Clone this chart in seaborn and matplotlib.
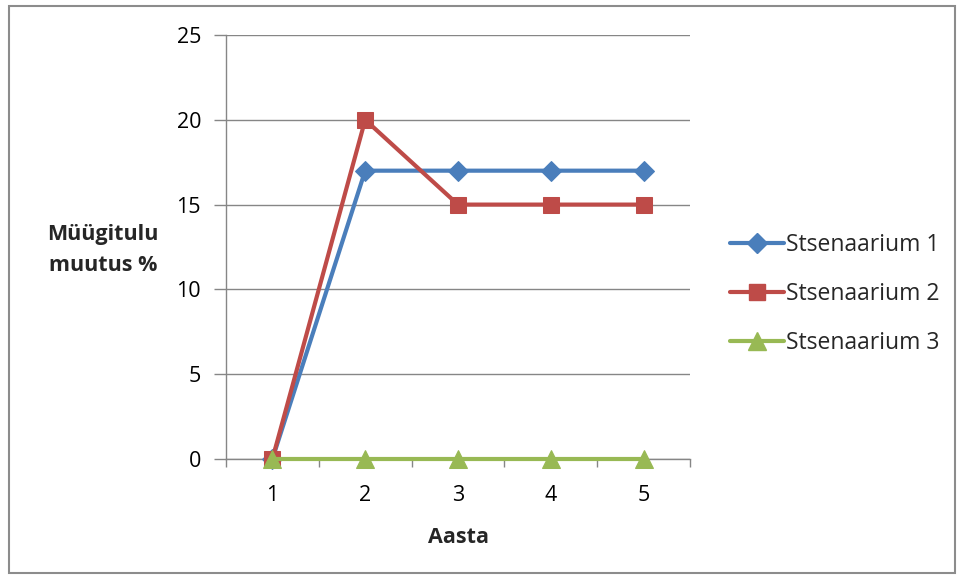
import matplotlib
matplotlib.use("Agg")
import matplotlib.pyplot as plt
import seaborn as sns
import pandas as pd
from matplotlib.lines import Line2D
from matplotlib.patches import Rectangle

years = [1, 2, 3, 4, 5]
series_names = ["Stsenaarium 1", "Stsenaarium 2", "Stsenaarium 3"]
scenario1 = [0, 17, 17, 17, 17]
scenario2 = [0, 20, 15, 15, 15]
scenario3 = [0, 0, 0, 0, 0]
y_ticks = [0, 5, 10, 15, 20, 25]

colors = {"Stsenaarium 1": "#4A7EBB", "Stsenaarium 2": "#BE4B48", "Stsenaarium 3": "#98B954"}
markers = {"Stsenaarium 1": "D", "Stsenaarium 2": "s", "Stsenaarium 3": "^"}
msizes = {"Stsenaarium 1": 10, "Stsenaarium 2": 11, "Stsenaarium 3": 12.5}
LW = 3.0
FS = 15.5

df = pd.DataFrame({
    "Aasta": years * 3,
    "value": scenario1 + scenario2 + scenario3,
    "series": [n for n in series_names for _ in years],
})

sns.set_theme(style="white")
plt.rcParams["font.family"] = ["Open Sans", "DejaVu Sans"]

fig = plt.figure(figsize=(9.64, 5.79), dpi=100)
ax = fig.add_axes([226 / 964, 1 - 459 / 579, 464 / 964, 424 / 579])

for name in series_names:
    sub = df[df["series"] == name]
    sns.lineplot(data=sub, x="Aasta", y="value", ax=ax, color=colors[name],
                 marker=markers[name], markersize=msizes[name],
                 markeredgecolor=colors[name], linewidth=LW, label=name,
                 legend=False, zorder=3, clip_on=False)

ax.set_xlim(0.5, 5.5)
ax.set_ylim(0, 25)
ax.set_yticks(y_ticks)
ax.set_xticks(years)
ax.set_xticks([0.5, 1.5, 2.5, 3.5, 4.5, 5.5], minor=True)
ax.grid(axis="y", color="#868686", linewidth=1.0, zorder=0)
ax.set_axisbelow(True)

for side in ["top", "right"]:
    ax.spines[side].set_visible(False)
for side in ["left", "bottom"]:
    ax.spines[side].set_color("#868686")
    ax.spines[side].set_linewidth(1.0)

ax.tick_params(axis="y", which="major", left=True, length=9, width=1.0,
               color="#868686", pad=9, labelsize=FS, labelcolor="black")
ax.tick_params(axis="x", which="major", bottom=False, length=0, pad=19,
               labelsize=FS, labelcolor="black")
ax.tick_params(axis="x", which="minor", bottom=True, length=6, width=1.0,
               color="#868686")

ax.set_xlabel("Aasta", fontsize=FS, fontweight="bold", labelpad=15)
ax.set_ylabel("")
fig.text(103 / 964, 1 - 250 / 579, "Müügitulu\nmuutus %", ha="center", va="center",
         fontsize=FS, fontweight="bold", linespacing=1.65)

handles = [Line2D([0], [0], color=colors[n], marker=markers[n], markersize=msizes[n],
                  markeredgecolor=colors[n], linewidth=LW) for n in series_names]
fig.legend(handles, series_names, loc="center left",
           bbox_to_anchor=(730 / 964, 1 - 294 / 579), frameon=False,
           fontsize=16.5, handlelength=2.35, handletextpad=0.1, labelspacing=1.08,
           borderaxespad=0, borderpad=0)

fig.patches.append(Rectangle((9 / 964, 1 - 573 / 579), 946 / 964, 567 / 579,
                             transform=fig.transFigure, fill=False,
                             edgecolor="#8C8C8C", linewidth=1.5))

fig.savefig("out.png", dpi=100)
